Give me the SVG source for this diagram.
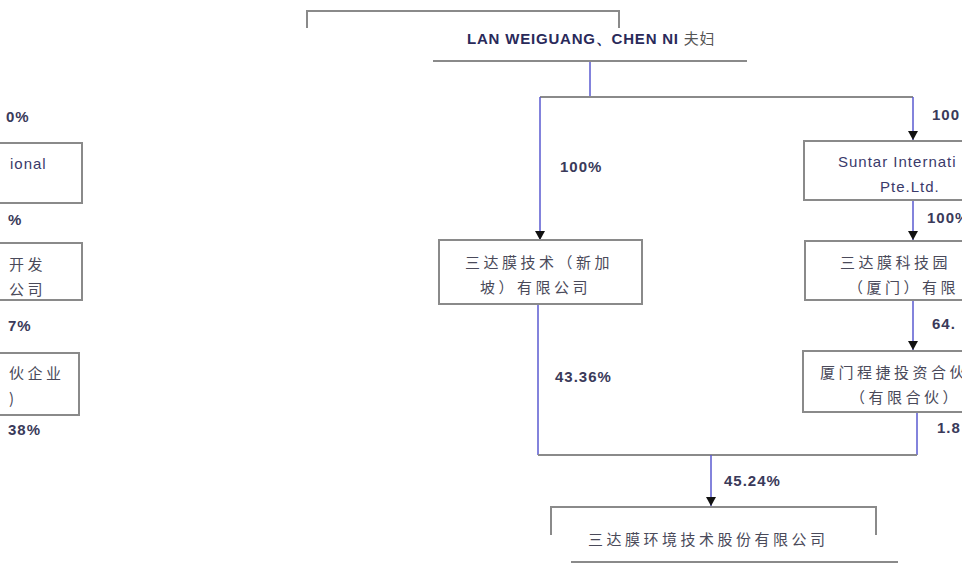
<svg xmlns="http://www.w3.org/2000/svg" width="962" height="574" viewBox="0 0 962 574">
<defs>
<marker id="arr" markerWidth="10" markerHeight="10" refX="9" refY="5" orient="auto" markerUnits="userSpaceOnUse" viewBox="0 0 10 10">
<path d="M0,0 L9,5 L0,10 Z" fill="#111"/>
</marker>
<style>
.box{fill:#fff;stroke:#8a8a8a;stroke-width:2}
.edge{fill:none;stroke:#8a8a8a;stroke-width:2}
.v{fill:none;stroke:#5a5ad0;stroke-width:1.5}
.t{font-family:"Liberation Sans","Noto Sans CJK SC",sans-serif;font-size:15px;letter-spacing:1px;fill:#3a3a6a}
.p{font-family:"Liberation Sans",sans-serif;font-size:15px;letter-spacing:1px;font-weight:bold;fill:#3a3a5a}
.c{font-family:"Noto Sans CJK SC",sans-serif;font-size:15px;letter-spacing:3.5px;fill:#4a4a5a}
</style>
</defs>
<rect width="962" height="574" fill="#fff"/>
<g id="connectors">
<path class="v" d="M590,61 V97"/>
<path class="edge" d="M540,97 H913"/>
<path class="v" d="M540,97 V240" marker-end="url(#arr)"/>
<path class="v" d="M913,97 V140" marker-end="url(#arr)"/>
<path class="v" d="M913,201 V240" marker-end="url(#arr)"/>
<path class="v" d="M913,301 V350" marker-end="url(#arr)"/>
<path class="v" d="M538,305 V455"/>
<path class="v" d="M917,413 V455"/>
<path class="edge" d="M538,455 H917"/>
<path class="v" d="M711,455 V506" marker-end="url(#arr)"/>
</g>
<g id="labels">
<text class="p" x="560" y="172">100%</text>
<text class="p" x="932" y="120">100</text>
<text class="p" x="927" y="223">100%</text>
<text class="p" x="932" y="329">64.</text>
<text class="p" x="555" y="382">43.36%</text>
<text class="p" x="937" y="433">1.8</text>
<text class="p" x="724" y="486">45.24%</text>
<text class="p" x="6" y="122">0%</text>
<text class="p" x="8" y="225">%</text>
<text class="p" x="8" y="331">7%</text>
<text class="p" x="8" y="435">38%</text>
</g>
<g id="top">
<path class="edge" d="M307,28 V11 H619 V28"/>
<path class="edge" d="M433,61 H747"/>
<text x="467" y="44" font-family="Liberation Sans,sans-serif" font-size="15" letter-spacing="0.8" font-weight="bold" fill="#2a2a5a">LAN WEIGUANG、CHEN NI <tspan font-weight="normal" font-family="Noto Sans CJK SC,sans-serif" fill="#555">夫妇</tspan></text>
</g>
<g id="left1">
<path class="box" d="M0,143 H82 V203 H0"/>
<text class="t" x="10" y="169">ional</text>
</g>
<g id="left2">
<path class="box" d="M0,243 H82 V300 H0"/>
<text class="c" x="9" y="270">开发</text>
<text class="c" x="9" y="295">公司</text>
</g>
<g id="left3">
<path class="box" d="M0,353 H79 V415 H0"/>
<text class="c" x="9" y="379">伙企业</text>
<text class="c" x="9" y="404">)</text>
</g>
<g id="sandamo-sg">
<rect class="box" x="439" y="240" width="203" height="64"/>
<text class="c" x="465" y="268">三达膜技术（新加</text>
<text class="c" x="480" y="293">坡）有限公司</text>
</g>
<g id="suntar">
<path class="box" d="M962,141 H804 V200 H962"/>
<text class="t" x="838" y="167">Suntar Internati</text>
<text class="t" x="880" y="192">Pte.Ltd.</text>
</g>
<g id="sandamo-xm">
<path class="box" d="M962,241 H805 V300 H962"/>
<text class="c" x="840" y="268">三达膜科技园</text>
<text class="c" x="848" y="293">（厦门）有限</text>
</g>
<g id="chengjie">
<path class="box" d="M962,351 H803 V412 H962"/>
<text class="c" x="820" y="378">厦门程捷投资合伙</text>
<text class="c" x="850" y="403">（有限合伙）</text>
</g>
<g id="bottom">
<path class="edge" d="M551,535 V507 H876 V535"/>
<text class="c" x="588" y="545">三达膜环境技术股份有限公司</text>
<path class="edge" d="M571,562 H898"/>
</g>
</svg>
